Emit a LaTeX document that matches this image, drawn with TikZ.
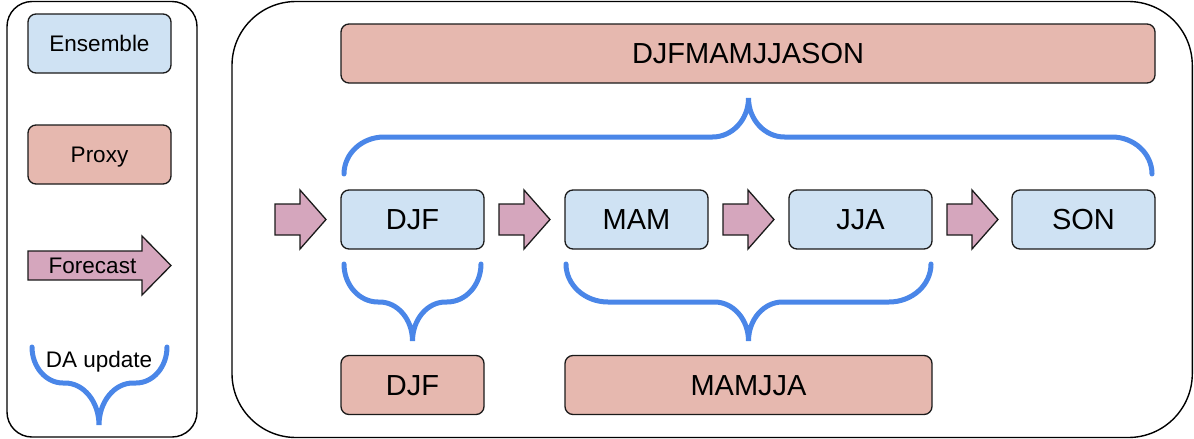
\documentclass[tikz,border=0pt]{standalone}
\usepackage{fontspec}
\setmainfont{Liberation Sans}
\definecolor{ensfill}{HTML}{CFE2F3}
\definecolor{proxyfill}{HTML}{E6B8AF}
\definecolor{fcfill}{HTML}{D5A6BD}
\definecolor{dablue}{HTML}{4A86E8}
\definecolor{edge}{HTML}{1A1A1A}

% curly brace: x-left, x-right, x-tip, y-ends, y-bar, y-tip, end radius, tip radius
\newcommand{\dabrace}[8]{%
  \draw[bracestyle] (#1,#4)
    .. controls (#1,{#4+0.552*(#5-#4)}) and ({#1+0.448*#7},#5) .. ({#1+#7},#5)
    -- ({#3-#8},#5)
    .. controls ({#3-0.448*#8},#5) and (#3,{#6-0.552*(#6-#5)}) .. (#3,#6)
    .. controls (#3,{#6-0.552*(#6-#5)}) and ({#3+0.448*#8},#5) .. ({#3+#8},#5)
    -- ({#2-#7},#5)
    .. controls ({#2-0.448*#7},#5) and (#2,{#4+0.552*(#5-#4)}) .. (#2,#4);}

\begin{document}
\begin{tikzpicture}[x=1pt,y=-1pt,
  panel/.style={draw=black,line width=1.4pt},
  basebox/.style={draw=edge,line width=1.3pt,rounded corners=8pt,inner sep=0pt},
  bigtext/.style={font=\fontsize{29}{32}\selectfont,text height=20.8pt,text depth=0pt},
  legendtext/.style={inner sep=0pt,font=\fontsize{22.5}{26}\selectfont,text height=16.1pt,text depth=0pt},
  ensbox/.style={basebox,bigtext,fill=ensfill,minimum width=143pt,minimum height=59pt},
  proxybox/.style={basebox,bigtext,fill=proxyfill,minimum height=59pt},
  arrowstyle/.style={draw=edge,line width=1.3pt,fill=fcfill,line join=miter},
  bracestyle/.style={draw=dablue,line width=5pt,line cap=round},
  fcarrow/.pic={\draw[arrowstyle] (-25.5,-15.5) -- (-0.5,-15.5) -- (-0.5,-29.5) -- (25.5,0)
      -- (-0.5,29.5) -- (-0.5,15.5) -- (-25.5,15.5) -- cycle;}
]
\useasboundingbox (0,0) rectangle (1194,439);

% frames
\draw[panel,rounded corners=25pt] (7,1.5) rectangle (197,437);
\draw[panel,rounded corners=64pt] (232,1.5) rectangle (1192.3,437.5);

% legend
\node[basebox,legendtext,fill=ensfill,minimum width=143pt,minimum height=59pt] (legens) at (99.5,43.5) {Ensemble};
\node[basebox,legendtext,fill=proxyfill,minimum width=143pt,minimum height=59pt] (legproxy) at (99.5,154.5) {Proxy};
\draw[arrowstyle] (28,251) -- (142,251) -- (142,236) -- (171,265.5) -- (142,295) -- (142,280) -- (28,280) -- cycle;
\node[legendtext] (legfc) at (92.5,265) {Forecast};
\dabrace{32}{167}{99}{347}{383}{425}{31}{34}
\node[legendtext] (legda) at (99,359) {DA update};

% annual proxy
\node[proxybox,minimum width=814pt] (pann) at (748,53.5) {DJFMAMJJASON};

% ensemble states
\node[ensbox] (djf) at (412.5,219.5) {DJF};
\node[ensbox] (mam) at (636.5,219.5) {MAM};
\node[ensbox] (jja) at (860.5,219.5) {JJA};
\node[ensbox] (son) at (1083.5,219.5) {SON};

% forecast steps
\pic at (300.5,219.5) {fcarrow};
\pic at (524.5,219.5) {fcarrow};
\pic at (748.5,219.5) {fcarrow};
\pic at (972.5,219.5) {fcarrow};

% seasonal proxies
\node[proxybox,minimum width=143pt] (pdjf) at (412.5,385) {DJF};
\node[proxybox,minimum width=367pt] (pmamjja) at (748.5,385) {MAMJJA};

% DA updates
\dabrace{344}{1152}{748.5}{174}{137}{98}{40}{36}
\dabrace{344}{481}{412.5}{264}{302}{341}{34}{33}
\dabrace{566}{931}{748.5}{264}{302}{341}{42}{34}
\end{tikzpicture}
\end{document}
